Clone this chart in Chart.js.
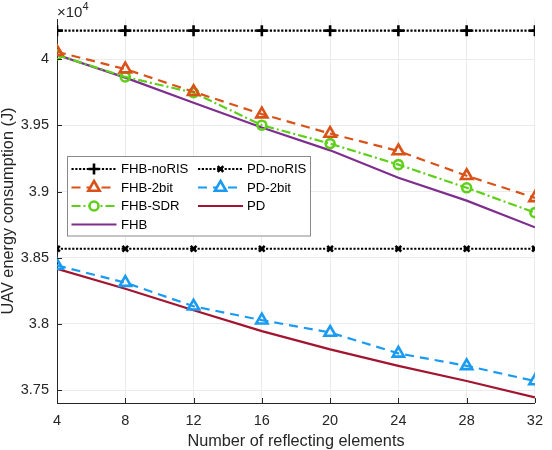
<!DOCTYPE html>
<html>
<head>
<meta charset="utf-8">
<script src="https://cdn.jsdelivr.net/npm/chart.js@4.4.1/dist/chart.umd.min.js"></script>
<style>
  body { margin: 0; background: #fff; }
  #wrap { width: 552px; height: 450px; }
</style>
</head>
<body>
<div id="wrap"><canvas id="chart" width="552" height="450"></canvas></div>
<script>
// values are in units of 10^4 J
const elements = [4, 8, 12, 16, 20, 24, 28, 32];
const fhbNoRIS = [4.0217, 4.0217, 4.0217, 4.0217, 4.0217, 4.0217, 4.0217, 4.0217];
const pdNoRIS = [3.8568, 3.8568, 3.8568, 3.8568, 3.8568, 3.8568, 3.8568, 3.8568];
const fhb2bit = [4.0057, 3.9926, 3.9755, 3.9586, 3.9439, 3.9307, 3.9120, 3.8953];
const pd2bit = [3.8442, 3.8312, 3.8133, 3.8028, 3.7935, 3.7777, 3.7683, 3.7568];
const fhbSDR = [4.0034, 3.9867, 3.9748, 3.9502, 3.9363, 3.9204, 3.9029, 3.8841];
const pd = [3.8417, 3.8266, 3.8103, 3.7945, 3.7807, 3.7683, 3.7568, 3.7444];
const fhb = [4.0034, 3.9862, 3.9672, 3.9485, 3.9312, 3.9105, 3.8932, 3.8730];

const xTicks = [4, 8, 12, 16, 20, 24, 28, 32];
const yTicks = [3.75, 3.8, 3.85, 3.9, 3.95, 4];

const axisColor = '#262626';
const fontFamily = "'Liberation Sans', Arial, Helvetica, sans-serif";

const toPoints = (ys) => ys.map((y, i) => ({ x: elements[i], y: y }));

const series = (label, ys, color, dash, pointStyle, radius) => ({
    label: label,
    data: toPoints(ys),
    borderColor: color,
    backgroundColor: 'rgba(255,255,255,0)',
    borderWidth: 2.2,
    borderDash: dash,
    pointStyle: pointStyle || false,
    pointRadius: pointStyle ? radius : 0,
    pointBorderColor: color,
    pointBackgroundColor: 'rgba(255,255,255,0)',
    pointBorderWidth: 2.6,
    tension: 0,
    fill: false,
});

const datasets = [
    series('FHB-noRIS', fhbNoRIS, '#000000', [2.2, 1.6], 'cross', 5.5),
    series('PD-noRIS', pdNoRIS, '#000000', [2.2, 1.6], 'crossRot', 4),
    series('FHB-2bit', fhb2bit, '#D95319', [9, 6], 'triangle', 6.5),
    series('PD-2bit', pd2bit, '#1A9BF2', [9, 6], 'triangle', 6.5),
    series('FHB-SDR', fhbSDR, '#5FD01A', [9, 3, 2, 3], 'circle', 4.5),
    series('PD', pd, '#A2142F', [], null, 0),
    series('FHB', fhb, '#7E2F8E', [], null, 0),
];

// inward tick marks, the x10^4 note and the boxed two-column legend
const decorations = {
    id: 'decorations',
    afterDraw(chart) {
        const ctx = chart.ctx;
        const area = chart.chartArea;
        const xs = chart.scales.x;
        const ys = chart.scales.y;

        ctx.save();
        ctx.strokeStyle = axisColor;
        ctx.lineWidth = 1;
        ctx.beginPath();
        xTicks.forEach(v => {
            const px = Math.round(xs.getPixelForValue(v)) + 0.5;
            ctx.moveTo(px, area.bottom);
            ctx.lineTo(px, area.bottom - 5);
        });
        yTicks.forEach(v => {
            const py = Math.round(ys.getPixelForValue(v)) + 0.5;
            ctx.moveTo(area.left, py);
            ctx.lineTo(area.left + 5, py);
        });
        ctx.stroke();

        // exponent label
        ctx.fillStyle = axisColor;
        ctx.textBaseline = 'alphabetic';
        ctx.textAlign = 'left';
        ctx.font = '15px ' + fontFamily;
        ctx.fillText('\u00d710', 57, 17);
        ctx.font = '11px ' + fontFamily;
        ctx.fillText('4', 82.5, 10);

        // legend
        const box = { x: 67.5, y: 156.5, w: 243, h: 79.5 };
        ctx.fillStyle = '#ffffff';
        ctx.fillRect(box.x, box.y, box.w, box.h);
        ctx.strokeStyle = '#8a8a8a';
        ctx.lineWidth = 1;
        ctx.strokeRect(box.x, box.y, box.w, box.h);

        const rowY = [169, 187.5, 206, 224.5];
        const cols = [{ x0: 71.5, x1: 116.5, tx: 121 }, { x0: 198, x1: 243, tx: 247 }];
        chart.data.datasets.forEach((ds, i) => {
            const c = cols[i % 2];
            const y = rowY[Math.floor(i / 2)];
            ctx.save();
            ctx.strokeStyle = ds.borderColor;
            ctx.lineWidth = ds.borderWidth;
            ctx.setLineDash(ds.borderDash || []);
            ctx.beginPath();
            ctx.moveTo(c.x0, y);
            ctx.lineTo(c.x1, y);
            ctx.stroke();
            ctx.setLineDash([]);
            if (ds.pointStyle) {
                ctx.fillStyle = '#ffffff';
                ctx.lineWidth = ds.pointBorderWidth;
                Chart.helpers.drawPoint(ctx, {
                    pointStyle: ds.pointStyle,
                    radius: ds.pointRadius,
                    rotation: 0,
                    borderWidth: ds.pointBorderWidth,
                }, (c.x0 + c.x1) / 2, y);
            }
            ctx.restore();
            ctx.fillStyle = '#000000';
            ctx.font = '13.2px ' + fontFamily;
            ctx.textBaseline = 'middle';
            ctx.textAlign = 'left';
            ctx.fillText(ds.label, c.tx, y + 0.5);
        });
        ctx.restore();
    }
};

Chart.defaults.font.family = fontFamily;
Chart.defaults.color = axisColor;

new Chart(document.getElementById('chart'), {
    type: 'line',
    data: { datasets: datasets },
    options: {
        responsive: false,
        animation: false,
        devicePixelRatio: 1,
        layout: { padding: { left: 0, right: 9, top: 19, bottom: 0 } },
        plugins: {
            legend: { display: false },
            tooltip: { enabled: false },
        },
        scales: {
            x: {
                type: 'linear',
                min: 4,
                max: 32,
                afterBuildTicks: (scale) => { scale.ticks = xTicks.map(v => ({ value: v })); },
                afterFit: (scale) => { scale.height = 47; },
                grid: { color: '#ebebeb', lineWidth: 1, drawTicks: false },
                border: { color: axisColor, width: 1 },
                ticks: { padding: 9, font: { size: 14.5 }, color: axisColor, maxRotation: 0 },
                title: {
                    display: true,
                    text: 'Number of reflecting elements',
                    font: { size: 16.3, lineHeight: 1 },
                    color: axisColor,
                    padding: 0,
                },
            },
            y: {
                type: 'linear',
                min: 3.7402,
                max: 4.0305,
                afterBuildTicks: (scale) => { scale.ticks = yTicks.map(v => ({ value: v })); },
                afterFit: (scale) => { scale.width = 57; },
                grid: { color: '#ebebeb', lineWidth: 1, drawTicks: false },
                border: { color: axisColor, width: 1 },
                ticks: {
                    padding: 8,
                    font: { size: 14.5 },
                    color: axisColor,
                    callback: (v) => String(+Number(v).toFixed(2)),
                },
                title: {
                    display: true,
                    text: 'UAV energy consumption (J)',
                    font: { size: 16.3, lineHeight: 1 },
                    color: axisColor,
                    padding: 0,
                },
            },
        },
    },
    plugins: [decorations],
});
</script>
</body>
</html>
